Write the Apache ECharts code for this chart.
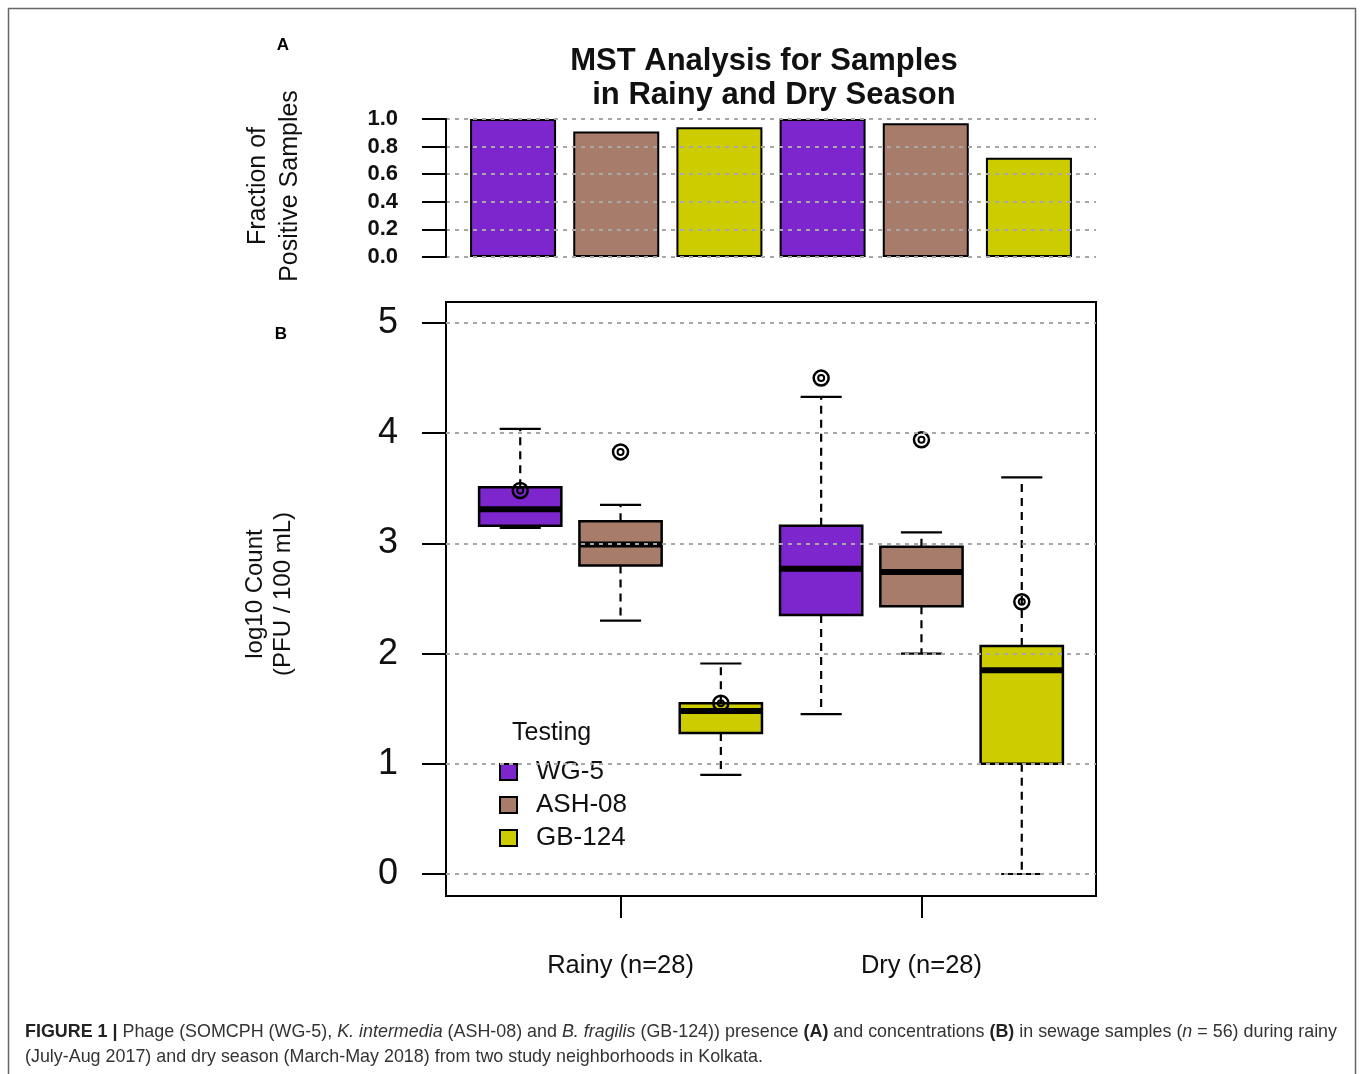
<!DOCTYPE html>
<html><head>
<meta http-equiv="Content-Type" content="text/html; charset=UTF-8">
<title>MST Analysis for Samples</title>
<script src="https://cdn.jsdelivr.net/npm/echarts@6.0.0/dist/echarts.min.js"></script>
<style>
  html, body { margin: 0; padding: 0; background: #fff; }
  #main { width: 1363px; height: 1074px; }
</style>
</head>
<body>
<div id="main"></div>
<script>
// groups / seasons
var groups = ['WG-5', 'ASH-08', 'GB-124'];
var seasons = ['Rainy (n=28)', 'Dry (n=28)'];
var colors = ['#7D26CD', '#A87C6B', '#CCCC00'];

// A: fraction of positive samples [rainy, dry]
var fracWG5 = [1.00, 1.00];
var fracASH = [0.91, 0.97];
var fracGB = [0.94, 0.72];

// B: log10 count, [min, q1, median, q3, max] for [rainy, dry]
var boxWG5 = [[3.14, 3.16, 3.31, 3.51, 4.04], [1.45, 2.35, 2.77, 3.16, 4.33]];
var boxASH = [[2.30, 2.80, 2.99, 3.20, 3.35], [2.00, 2.43, 2.74, 2.97, 3.10]];
var boxGB = [[0.90, 1.28, 1.48, 1.55, 1.91], [0.00, 1.00, 1.85, 2.07, 3.60]];

// B: circled points [rainy, dry]
var markWG5 = [3.48, 4.50];
var markASH = [3.83, 3.94];
var markGB = [1.55, 2.47];

var fracAll = [fracWG5, fracASH, fracGB];
var boxAll = [boxWG5, boxASH, boxGB];
var markAll = [markWG5, markASH, markGB];

var FONT = "'Liberation Sans', Arial, Helvetica, sans-serif";
var gridLine = { color: '#a8a8a8', width: 2, type: [4, 5] };
var blackLine = { color: '#000', width: 2 };

// slot i = season*3 + group ; barplot centre 0.7+1.2*i ; boxplot at 1+i
function slot(g, s) { return s * 3 + g; }

function renderBox(params, api) {
    var x = api.value(0);
    var pMin = api.coord([x, api.value(1)]);
    var pQ1 = api.coord([x, api.value(2)]);
    var pMed = api.coord([x, api.value(3)]);
    var pQ3 = api.coord([x, api.value(4)]);
    var pMax = api.coord([x, api.value(5)]);
    var w = api.size([0.82, 0])[0];
    var cx = pMed[0];
    var dash = { stroke: '#000', lineWidth: 2.2, lineDash: [8, 6] };
    var solid = { stroke: '#000', lineWidth: 2.2 };
    return {
        type: 'group',
        children: [
            { type: 'line', shape: { x1: cx, y1: pQ3[1], x2: cx, y2: pMax[1] }, style: dash },
            { type: 'line', shape: { x1: cx, y1: pQ1[1], x2: cx, y2: pMin[1] }, style: dash },
            { type: 'line', shape: { x1: cx - w / 4, y1: pMax[1], x2: cx + w / 4, y2: pMax[1] }, style: solid },
            { type: 'line', shape: { x1: cx - w / 4, y1: pMin[1], x2: cx + w / 4, y2: pMin[1] }, style: solid },
            { type: 'rect', shape: { x: cx - w / 2, y: pQ3[1], width: w, height: pQ1[1] - pQ3[1] },
              style: { fill: api.visual('color'), stroke: '#000', lineWidth: 2.5 } },
            { type: 'line', shape: { x1: cx - w / 2, y1: pMed[1], x2: cx + w / 2, y2: pMed[1] },
              style: { stroke: '#000', lineWidth: 6 } }
        ]
    };
}

var series = [];
var outerPts = [];
for (var g = 0; g < groups.length; g++) {
    var barData = [], boxData = [];
    for (var s = 0; s < seasons.length; s++) {
        var i = slot(g, s);
        barData.push([0.7 + 1.2 * i, fracAll[g][s]]);
        boxData.push([1 + i].concat(boxAll[g][s]));
        outerPts.push([1 + i, markAll[g][s]]);
    }
    series.push({
        type: 'bar', name: groups[g], xAxisIndex: 0, yAxisIndex: 0,
        barWidth: 86, barGap: '-100%', data: barData,
        itemStyle: { color: colors[g], borderColor: '#000', borderWidth: 2 }
    });
    series.push({
        type: 'custom', name: groups[g], xAxisIndex: 1, yAxisIndex: 1,
        renderItem: renderBox, data: boxData,
        encode: { x: 0, y: [1, 2, 3, 4, 5] },
        itemStyle: { color: colors[g] }
    });
}
series.push({
    type: 'scatter', name: 'pts', xAxisIndex: 1, yAxisIndex: 1, z: 4, silent: true,
    symbol: 'circle', symbolSize: 15, data: outerPts,
    itemStyle: { color: 'rgba(0,0,0,0)', borderColor: '#000', borderWidth: 2.5, opacity: 1 }
});
series.push({
    type: 'scatter', name: 'pts2', xAxisIndex: 1, yAxisIndex: 1, z: 4, silent: true,
    symbol: 'circle', symbolSize: 6, data: outerPts,
    itemStyle: { color: 'rgba(0,0,0,0)', borderColor: '#000', borderWidth: 2, opacity: 1 }
});

var chart = echarts.init(document.getElementById('main'));
var option = {
    animation: false,
    backgroundColor: '#fff',
    textStyle: { fontFamily: FONT },
    grid: [
        { left: 446, top: 119, width: 650, height: 138 },
        { left: 446, top: 323, width: 650, height: 551 },
        { left: 446, top: 302, width: 650, height: 594, show: true, borderColor: '#000', borderWidth: 2, backgroundColor: 'rgba(0,0,0,0)' }
    ],
    xAxis: [
        { gridIndex: 0, type: 'value', min: -0.08, max: 7.48, show: false },
        { gridIndex: 1, type: 'value', min: 0.26, max: 6.74, show: false },
        { gridIndex: 2, type: 'value', min: 0.26, max: 6.74,
          axisLine: { show: false }, splitLine: { show: false },
          axisTick: { show: true, customValues: [2, 5], length: 22, lineStyle: blackLine },
          axisLabel: { customValues: [2, 5], margin: 57, fontSize: 25.5, color: '#111',
                       formatter: function (v) { return v === 2 ? seasons[0] : seasons[1]; } } }
    ],
    yAxis: [
        { gridIndex: 0, type: 'value', min: 0, max: 1, interval: 0.2, z: 5,
          axisLine: { show: true, onZero: false, lineStyle: blackLine },
          axisTick: { show: true, length: 24, lineStyle: blackLine },
          axisLabel: { margin: 48, fontSize: 22, fontWeight: 'bold', color: '#111',
                       formatter: function (v) { return v.toFixed(1); } },
          splitLine: { show: true, lineStyle: gridLine } },
        { gridIndex: 1, type: 'value', min: 0, max: 5, interval: 1, z: 5,
          axisLine: { show: false, onZero: false },
          axisTick: { show: true, length: 24, lineStyle: blackLine },
          axisLabel: { margin: 48, fontSize: 36, color: '#111' },
          splitLine: { show: true, lineStyle: gridLine } },
        { gridIndex: 2, type: 'value', show: false }
    ],
    legend: {
        data: groups, orient: 'vertical', left: 494, top: 754, icon: 'rect',
        itemWidth: 17, itemHeight: 16, itemGap: 7, selectedMode: false,
        itemStyle: { borderColor: '#000', borderWidth: 2 },
        textStyle: { fontSize: 26, color: '#111', lineHeight: 25, padding: [0, 0, 0, 14] }
    },
    series: series,
    graphic: [
        { type: 'rect', shape: { x: 8.5, y: 8.5, width: 1347, height: 1080 },
          style: { fill: null, stroke: '#666', lineWidth: 1.5 }, silent: true },
        { type: 'text', x: 283, y: 45, style: { text: 'A', fontSize: 17, fontWeight: 'bold', fontFamily: FONT, fill: '#000', align: 'center', verticalAlign: 'middle' } },
        { type: 'text', x: 281, y: 334, style: { text: 'B', fontSize: 17, fontWeight: 'bold', fontFamily: FONT, fill: '#000', align: 'center', verticalAlign: 'middle' } },
        { type: 'text', x: 764, y: 61, style: { text: 'MST Analysis for Samples', fontSize: 31, fontWeight: 'bold', fontFamily: FONT, fill: '#111', align: 'center', verticalAlign: 'middle' } },
        { type: 'text', x: 774, y: 95, style: { text: 'in Rainy and Dry Season', fontSize: 31, fontWeight: 'bold', fontFamily: FONT, fill: '#111', align: 'center', verticalAlign: 'middle' } },
        { type: 'text', x: 258, y: 186, rotation: Math.PI / 2, style: { text: 'Fraction of', fontSize: 25, fontFamily: FONT, fill: '#111', align: 'center', verticalAlign: 'middle' } },
        { type: 'text', x: 290, y: 186, rotation: Math.PI / 2, style: { text: 'Positive Samples', fontSize: 25, fontFamily: FONT, fill: '#111', align: 'center', verticalAlign: 'middle' } },
        { type: 'text', x: 255, y: 594, rotation: Math.PI / 2, style: { text: 'log10 Count', fontSize: 24, fontFamily: FONT, fill: '#111', align: 'center', verticalAlign: 'middle' } },
        { type: 'text', x: 283, y: 594, rotation: Math.PI / 2, style: { text: '(PFU / 100 mL)', fontSize: 24, fontFamily: FONT, fill: '#111', align: 'center', verticalAlign: 'middle' } },
        { type: 'text', x: 512, y: 733, style: { text: 'Testing', fontSize: 25, fontFamily: FONT, fill: '#111', align: 'left', verticalAlign: 'middle' } },
        { type: 'text', x: 25, y: 1032, style: {
            text: '{b|FIGURE 1 |} Phage (SOMCPH (WG-5), {i|K. intermedia} (ASH-08) and {i|B. fragilis} (GB-124)) presence {b|(A)} and concentrations {b|(B)} in sewage samples ({i|n} = 56) during rainy',
            fontSize: 17.9, fontFamily: FONT, fill: '#333', verticalAlign: 'middle',
            rich: { b: { fontSize: 17.9, fontFamily: FONT, fontWeight: 'bold', fill: '#222' },
                    i: { fontSize: 17.9, fontFamily: FONT, fontStyle: 'italic', fill: '#333' } } } },
        { type: 'text', x: 25, y: 1057, style: {
            text: '(July-Aug 2017) and dry season (March-May 2018) from two study neighborhoods in Kolkata.',
            fontSize: 17.9, fontFamily: FONT, fill: '#333', verticalAlign: 'middle' } }
    ]
};
chart.setOption(option);
</script>
</body></html>
